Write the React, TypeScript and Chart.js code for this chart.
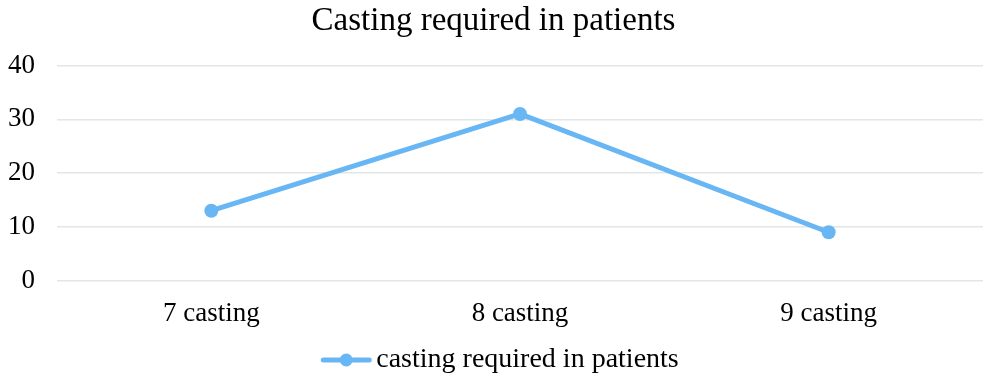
import React, { useEffect, useRef } from "react";
import { Chart, registerables } from "chart.js";

Chart.register(...registerables);

const categories = ["7 casting", "8 casting", "9 casting"];
const seriesName = "casting required in patients";
const values = [13, 31, 9];
const yTicks = [0, 10, 20, 30, 40];
const titleText = "Casting required in patients";

const LINE_COLOR = "#69B6F4";
const FONT = "'Liberation Serif', 'Times New Roman', serif";
const TICK_SIZE = 27;
const LEGEND_SIZE = 28;

const bottomLegend = {
  id: "bottomLegend",
  afterDraw(chart: any) {
    const ctx = chart.ctx as CanvasRenderingContext2D;
    const ds = chart.data.datasets[0];
    ctx.save();
    ctx.font = `${LEGEND_SIZE}px ${FONT}`;
    const tw = ctx.measureText(ds.label).width;
    const iconW = 50;
    const gap = 5;
    const total = iconW + gap + tw;
    const x0 = chart.width / 2 - total / 2 + 5;
    const y = 360;
    ctx.strokeStyle = ds.borderColor;
    ctx.lineWidth = 5;
    ctx.lineCap = "round";
    ctx.beginPath();
    ctx.moveTo(x0 + 2, y);
    ctx.lineTo(x0 + iconW - 2, y);
    ctx.stroke();
    ctx.fillStyle = ds.borderColor;
    ctx.beginPath();
    ctx.arc(x0 + iconW / 2, y, 6.5, 0, Math.PI * 2);
    ctx.fill();
    ctx.fillStyle = "#000";
    ctx.textBaseline = "middle";
    ctx.textAlign = "left";
    ctx.fillText(ds.label, x0 + iconW + gap, y);
    ctx.restore();
  },
};

export default function App() {
  const ref = useRef<HTMLCanvasElement | null>(null);
  useEffect(() => {
    if (!ref.current) return;
    const chart = new Chart(ref.current, {
      type: "line",
      data: {
        labels: categories,
        datasets: [
          {
            label: seriesName,
            data: values,
            borderColor: LINE_COLOR,
            backgroundColor: LINE_COLOR,
            borderWidth: 5,
            pointRadius: 7,
            pointHoverRadius: 7,
            pointBackgroundColor: LINE_COLOR,
            pointBorderWidth: 0,
            tension: 0,
          },
        ],
      },
      options: {
        animation: false,
        responsive: false,
        maintainAspectRatio: false,
        layout: { padding: { left: 0, right: 3, top: 2, bottom: 39 } },
        plugins: {
          title: {
            display: true,
            text: titleText,
            color: "#000",
            font: { family: FONT, size: 33, weight: "normal", lineHeight: 1.2 },
            padding: { top: 0, bottom: 24 },
          },
          legend: { display: false },
          tooltip: { enabled: false },
        },
        scales: {
          x: {
            offset: true,
            grid: { display: false, drawTicks: false },
            border: { display: false },
            ticks: {
              color: "#000",
              font: { family: FONT, size: TICK_SIZE, lineHeight: 1.2 },
              padding: 17,
              maxRotation: 0,
            },
          },
          y: {
            min: 0,
            max: 40,
            afterBuildTicks: (axis: any) => {
              axis.ticks = yTicks.map((v) => ({ value: v }));
            },
            afterFit: (axis: any) => {
              axis.width = 57;
            },
            grid: { color: "#E1E6E6", lineWidth: 1.5, drawTicks: false },
            border: { display: false },
            ticks: {
              color: "#000",
              font: { family: FONT, size: TICK_SIZE },
              padding: 22,
            },
          },
        },
      },
      plugins: [bottomLegend],
    });
    return () => chart.destroy();
  }, []);
  return (
    <div style={{ position: "absolute", left: 0, top: 0, width: 990, height: 386, background: "#fff" }}>
      <canvas ref={ref} width={990} height={386} style={{ width: 990, height: 386 }} />
    </div>
  );
}
